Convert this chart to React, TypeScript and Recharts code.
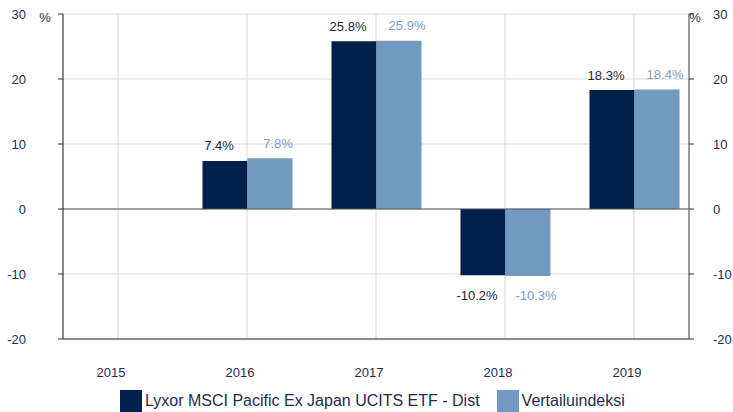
import React from "react";
import { BarChart, Bar, XAxis, YAxis, CartesianGrid, ReferenceLine, Legend, LabelList } from "recharts";

const years = ["2015", "2016", "2017", "2018", "2019"];
const fundValues = [null, 7.4, 25.8, -10.2, 18.3];
const indexValues = [null, 7.8, 25.9, -10.3, 18.4];
const yTicks = [-20, -10, 0, 10, 20, 30];

const FUND_NAME = "Lyxor MSCI Pacific Ex Japan UCITS ETF - Dist";
const INDEX_NAME = "Vertailuindeksi";

const DARK = "#001f4b";
const LIGHT = "#7299bf";
const TEXT = "#1d2d50";
const FONT = "'Liberation Sans', Arial, sans-serif";

const data = years.map((year, i) => ({ year, fund: fundValues[i], index: indexValues[i] }));

const makeLabel = (color: string, dx: number) => (props: any) => {
    const { x, y, width, height, value } = props;
    if (value === null || value === undefined) return null;
    const top = Math.min(y, y + height);
    const bottom = Math.max(y, y + height);
    const cy = value >= 0 ? top - 15 : bottom + 20;
    return (
        <text x={x + width / 2 + dx} y={cy} fill={color} fontSize={13} fontFamily={FONT} textAnchor="middle" dominantBaseline="central">
            {value.toFixed(1)}%
        </text>
    );
};

const XTick = (props: any) => {
    const { x, y, payload } = props;
    return (
        <text x={x - 7} y={y + 38} fill={TEXT} fontSize={13} fontFamily={FONT} textAnchor="middle">
            {payload.value}
        </text>
    );
};

const LegendContent = () => (
    <div style={{ display: "flex", alignItems: "center", fontFamily: FONT, fontSize: 16, color: TEXT, paddingLeft: 120 }}>
        <span style={{ width: 22, height: 22, background: DARK, display: "inline-block", marginRight: 3 }} />
        <span style={{ marginRight: 17 }}>{FUND_NAME}</span>
        <span style={{ width: 22, height: 22, background: LIGHT, display: "inline-block", marginRight: 3 }} />
        <span>{INDEX_NAME}</span>
    </div>
);

const App = () => {
    return (
        <div style={{ position: "absolute", left: 0, top: 0, width: 733, height: 412, background: "#fff" }}>
            <BarChart
                width={733}
                height={412}
                data={data}
                margin={{ top: 14, right: 0, left: 0, bottom: 0 }}
                barGap={0}
                barSize={45}
            >
                <CartesianGrid yAxisId="left" stroke="#d9d9d9" />
                <XAxis
                    dataKey="year"
                    height={73}
                    padding={{ left: -9.5, right: -9.5 }}
                    axisLine={{ stroke: "#1d2d50" }}
                    tickLine={false}
                    tickSize={0}
                    tickMargin={0}
                    tick={<XTick />}
                />
                <YAxis
                    yAxisId="left"
                    width={63}
                    domain={[-20, 30]}
                    ticks={yTicks}
                    axisLine={{ stroke: "#222" }}
                    tickLine={{ stroke: "#1d2d50" }}
                    tickSize={5}
                    tickMargin={32}
                    tick={{ fill: TEXT, fontSize: 13, fontFamily: FONT }}
                    label={() => (
                        <text x={45} y={17} fill={TEXT} fontSize={13} fontFamily={FONT} textAnchor="middle" dominantBaseline="central">%</text>
                    )}
                />
                <YAxis
                    yAxisId="right"
                    orientation="right"
                    width={44}
                    domain={[-20, 30]}
                    ticks={yTicks}
                    axisLine={{ stroke: "#808080", strokeWidth: 1.5 }}
                    tickLine={{ stroke: "#1d2d50" }}
                    tickSize={5}
                    tickMargin={19}
                    tick={{ fill: TEXT, fontSize: 13, fontFamily: FONT }}
                    label={() => (
                        <text x={695} y={17} fill={TEXT} fontSize={13} fontFamily={FONT} textAnchor="middle" dominantBaseline="central">%</text>
                    )}
                />
                <ReferenceLine yAxisId="left" y={0} stroke="#555" />
                <Legend
                    layout="horizontal"
                    verticalAlign="middle"
                    align="center"
                    content={<LegendContent />}
                    wrapperStyle={{ top: 390, left: 0, width: 733 }}
                />
                <Bar yAxisId="left" dataKey="fund" name={FUND_NAME} fill={DARK} isAnimationActive={false}>
                    <LabelList dataKey="fund" content={makeLabel("#1a2540", -6)} />
                </Bar>
                <Bar yAxisId="right" dataKey="index" name={INDEX_NAME} fill={LIGHT} isAnimationActive={false}>
                    <LabelList dataKey="index" content={makeLabel("#7a9cc6", 8)} />
                </Bar>
            </BarChart>
        </div>
    );
};

export default App;
